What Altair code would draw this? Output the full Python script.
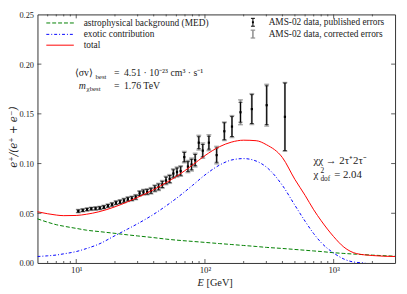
import altair as alt
import pandas as pd

SERIF = "Liberation Serif"
TXT = "#222222"

# ---------------- data ----------------
E_data = [10.38, 11.24, 12.14, 13.09, 14.14, 15.24, 16.39, 17.64, 18.98, 20.38,
          21.89, 23.49, 25.19, 27.04, 28.98, 31.08, 33.28, 35.58, 38.08, 40.78,
          43.63, 46.63, 49.83, 53.23, 56.83, 60.67, 64.77, 69.12, 73.76, 78.73,
          83.98, 89.57, 96.18, 107.3, 123.3, 141.5, 162.2, 188.9, 231.4, 301.7, 418.3]
frac = [0.0522, 0.0530, 0.0538, 0.0545, 0.0548, 0.0553, 0.0562, 0.0575, 0.0588, 0.0605,
        0.0615, 0.0628, 0.0642, 0.0648, 0.0662, 0.0700, 0.0712, 0.0716, 0.0726, 0.0750,
        0.0765, 0.0790, 0.0830, 0.0845, 0.0900, 0.0915, 0.0925, 0.1065, 0.0970, 0.0990,
        0.1035, 0.1210, 0.1130, 0.1210, 0.1085, 0.1325, 0.1372, 0.1516, 0.1548, 0.1587, 0.1470]
err_pub = [0.0012, 0.0012, 0.0012, 0.0012, 0.0013, 0.0013, 0.0014, 0.0014, 0.0015, 0.0016,
           0.0016, 0.0017, 0.0018, 0.0019, 0.0020, 0.0021, 0.0022, 0.0024, 0.0025, 0.0027,
           0.0029, 0.0031, 0.0033, 0.0035, 0.0037, 0.0040, 0.0043, 0.0046, 0.0049, 0.0052,
           0.0056, 0.0060, 0.0062, 0.0065, 0.0072, 0.0085, 0.0100, 0.0100, 0.0145, 0.0195, 0.0340]
err_cor = [0.0016, 0.0016, 0.0016, 0.0016, 0.0017, 0.0017, 0.0018, 0.0018, 0.0019, 0.0020,
           0.0021, 0.0022, 0.0023, 0.0024, 0.0025, 0.0026, 0.0028, 0.0030, 0.0032, 0.0034,
           0.0036, 0.0039, 0.0042, 0.0044, 0.0047, 0.0050, 0.0053, 0.0057, 0.0061, 0.0065,
           0.0069, 0.0074, 0.0077, 0.0080, 0.0088, 0.0093, 0.0110, 0.0125, 0.0155, 0.0210, 0.0345]

E_curve = [5, 6, 7, 8, 10, 12, 15, 20, 25, 30, 40, 50, 60, 80, 100, 130, 160, 200, 250, 300,
           400, 500, 600, 700, 800, 1000, 1200, 1500, 2000, 3000]
bkg = [0.0444, 0.0410, 0.0385, 0.0370, 0.0348, 0.0330, 0.0316, 0.0298, 0.0283, 0.0272,
       0.0255, 0.0240, 0.0230, 0.0217, 0.0207, 0.0195, 0.0186, 0.0176, 0.0166, 0.0157,
       0.0146, 0.0136, 0.0128, 0.0121, 0.0115, 0.0103, 0.0096, 0.0088, 0.0079, 0.0068]
total = [0.0515, 0.0495, 0.0482, 0.0476, 0.0478, 0.0490, 0.0515, 0.0565, 0.0615, 0.0660,
         0.0738, 0.0808, 0.0870, 0.0985, 0.1080, 0.1170, 0.1215, 0.1235, 0.1230, 0.1190,
         0.1060, 0.0840, 0.0680, 0.0535, 0.0425, 0.0265, 0.0160, 0.0095, 0.0075, 0.0065]
E_exo = [5, 6, 7, 8, 10, 12, 15, 20, 25, 30, 40, 50, 60, 80, 100, 130, 160, 200, 250, 300,
         400, 500, 600, 700, 800, 1000, 1200, 1400, 1760]
exo = [0.0065, 0.0072, 0.0080, 0.0092, 0.0115, 0.0145, 0.0190, 0.0275, 0.0340, 0.0395,
       0.0490, 0.0575, 0.0650, 0.0780, 0.0885, 0.0985, 0.1035, 0.1050, 0.1025, 0.0965,
       0.0780, 0.0580, 0.0420, 0.0295, 0.0205, 0.0100, 0.0040, 0.0012, 0.0]

x_major = [10, 100, 1000]
x_minor = [6, 7, 8, 9, 20, 30, 40, 50, 60, 70, 80, 90,
           200, 300, 400, 500, 600, 700, 800, 900, 2000]
y_major = [0.05, 0.10, 0.15, 0.20]
y_labels = [0.0, 0.05, 0.10, 0.15, 0.20, 0.25]

# layout: plot area on the page
PAD_L, PAD_T = 30, 4
LEFT, TOP = 8 + PAD_L, 8 + PAD_T       # page position of the plot area
W, H = 364, 253


def px(xp):
    return xp - LEFT


def py(yp):
    return yp - TOP


pts = pd.DataFrame({"E": E_data, "f": frac})
pts["lo"] = [f - e for f, e in zip(frac, err_pub)]
pts["hi"] = [f + e for f, e in zip(frac, err_pub)]
pts["clo"] = [f - e for f, e in zip(frac, err_cor)]
pts["chi"] = [f + e for f, e in zip(frac, err_cor)]

curves = pd.DataFrame({"E": E_curve, "bkg": bkg, "total": total})
exod = pd.DataFrame({"E": E_exo, "exo": exo})

xs = alt.Scale(type="log", domain=[5, 3000], nice=False)
ys = alt.Scale(domain=[0, 0.25], nice=False, zero=False)

xaxis = alt.Axis(values=x_major, title=None, ticks=False, domain=False, grid=False,
                 labelExpr="datum.value == 10 ? '10¹' : datum.value == 100 ? '10²' : '10³'",
                 labelFont=SERIF, labelFontSize=9, labelPadding=3, labelColor=TXT,
                 labelOverlap=False)
yaxis = alt.Axis(values=y_labels, format=".2f", title=None, ticks=False, domain=False, grid=False,
                 labelFont=SERIF, labelFontSize=8.5, labelPadding=4, labelColor=TXT,
                 labelOverlap=False)

X = lambda f: alt.X(f, type="quantitative", scale=xs, axis=xaxis)
Y = lambda f: alt.Y(f, type="quantitative", scale=ys, axis=yaxis)

total_line = alt.Chart(curves).mark_line(color="#ff0000", strokeWidth=1, interpolate="monotone").encode(
    x=X("E"), y=Y("total"))
bkg_line = alt.Chart(curves).mark_line(color="#008000", strokeWidth=1, strokeDash=[4, 2],
                                       interpolate="monotone").encode(x=X("E"), y=Y("bkg"))
exo_line = alt.Chart(exod).mark_line(color="#0000ff", strokeWidth=1, strokeDash=[3, 2, 1, 2],
                                     interpolate="monotone", clip=True).encode(x=X("E"), y=Y("exo"))

cor_bar = alt.Chart(pts).mark_rule(color="#8c8c8c", strokeWidth=2).encode(x=X("E"), y=Y("clo"), y2="chi")
cor_cap_hi = alt.Chart(pts).mark_tick(color="#8c8c8c", orient="horizontal", size=5, thickness=1.5).encode(x=X("E"), y=Y("chi"))
cor_cap_lo = alt.Chart(pts).mark_tick(color="#8c8c8c", orient="horizontal", size=5, thickness=1.5).encode(x=X("E"), y=Y("clo"))
pub_bar = alt.Chart(pts).mark_rule(color="#000000", strokeWidth=1).encode(x=X("E"), y=Y("lo"), y2="hi")
pub_cap_hi = alt.Chart(pts).mark_tick(color="#000000", orient="horizontal", size=4, thickness=1).encode(x=X("E"), y=Y("hi"))
pub_cap_lo = alt.Chart(pts).mark_tick(color="#000000", orient="horizontal", size=4, thickness=1).encode(x=X("E"), y=Y("lo"))
dots = alt.Chart(pts).mark_square(color="#000000", size=5, opacity=1).encode(x=X("E"), y=Y("f"))


# inward ticks
def xticks(vals, length):
    d = pd.DataFrame({"v": vals})
    b = alt.Chart(d).mark_rule(color="#333333", strokeWidth=0.8).encode(x=X("v"), y=alt.value(H), y2=alt.value(H - length))
    t = alt.Chart(d).mark_rule(color="#333333", strokeWidth=0.8).encode(x=X("v"), y=alt.value(0), y2=alt.value(length))
    return [b, t]


def yticks(vals, length):
    d = pd.DataFrame({"v": vals})
    l = alt.Chart(d).mark_rule(color="#333333", strokeWidth=0.8).encode(y=Y("v"), x=alt.value(0), x2=alt.value(length))
    r = alt.Chart(d).mark_rule(color="#333333", strokeWidth=0.8).encode(y=Y("v"), x=alt.value(W), x2=alt.value(W - length))
    return [l, r]


ticks = xticks(x_major, 4) + xticks(x_minor, 2) + yticks(y_major, 4)


def txt(s, xp, yp, size=9.5, align="left", style="normal", angle=0, baseline="middle", color=TXT, font=SERIF):
    return alt.Chart(pd.DataFrame({"t": [s]})).mark_text(
        align=align, baseline=baseline, fontSize=size, font=font, fontStyle=style,
        color=color, angle=angle).encode(x=alt.value(px(xp)), y=alt.value(py(yp)), text="t:N")


def seg(x1, x2, yp, color, dash=None, width=1.0):
    kw = dict(color=color, strokeWidth=width)
    if dash:
        kw["strokeDash"] = dash
    return alt.Chart(pd.DataFrame({"a": [0]})).mark_rule(**kw).encode(
        x=alt.value(px(x1)), x2=alt.value(px(x2)), y=alt.value(py(yp)))


def vseg(xp, y1, y2, color, width=1.0):
    return alt.Chart(pd.DataFrame({"a": [0]})).mark_rule(color=color, strokeWidth=width).encode(
        x=alt.value(px(xp)), y=alt.value(py(y1)), y2=alt.value(py(y2)))


legend = [
    seg(47, 75, 20.7, "#008000", [4, 2]), txt("astrophysical background (MED)", 85, 20.7),
    seg(47, 75, 32.3, "#0000ff", [3, 2, 1, 2]), txt("exotic contribution", 85, 32.3),
    seg(47, 75, 43.3, "#ff0000"), txt("total", 85, 43.3),
    # published errors marker
    vseg(257.3, 16, 24, "#000000"), seg(255.3, 259.3, 16, "#000000"), seg(255.3, 259.3, 24, "#000000"),
    seg(256.3, 258.3, 20, "#000000", width=2),
    txt("AMS-02 data, published errors", 273.3, 20),
    # corrected errors marker
    vseg(257.3, 28, 36, "#8c8c8c", 1.5), seg(255, 259.6, 28, "#8c8c8c", width=1.2), seg(255, 259.6, 36, "#8c8c8c", width=1.2),
    txt("AMS-02 data, corrected errors", 273.3, 32),
]

annot = [
    txt("⟨σv⟩", 76, 72, size=10),
    txt("best", 97, 75.5, size=7),
    txt("=", 116, 72, size=10),
    txt("4.51 · 10⁻²³ cm³ · s⁻¹", 126, 72, size=10),
    txt("m", 80, 84.5, size=10, style="italic"),
    txt("χbest", 88, 88, size=7),
    txt("=", 116, 84.5, size=10),
    txt("1.76 TeV", 126, 84.5, size=10),
    txt("χχ → 2τ⁺2τ⁻", 319, 161, size=11),
    txt("χ", 319, 176, size=11),
    txt("2", 326, 171.5, size=7.5),
    txt("dof", 326, 180, size=7.5),
    txt("= 2.04", 340, 176, size=11),
    # axis titles
    txt("E", 201, 285, size=10.5, style="italic"),
    txt("[GeV]", 210, 285, size=10.5),
    txt("e⁺/(e⁺ + e⁻)", 14, 137, size=10.5, style="italic", align="center", angle=270, font="DejaVu Serif"),
]

layers = [bkg_line, exo_line, cor_bar, cor_cap_hi, cor_cap_lo, pub_bar, pub_cap_hi, pub_cap_lo, dots,
          total_line] + ticks + legend + annot

chart = alt.layer(*layers).properties(
    width=W, height=H,
    autosize=alt.AutoSizeParams(type="none"),
    padding={"left": PAD_L, "top": PAD_T, "right": 4, "bottom": 27},
    background="white",
).configure_view(stroke="#333333", strokeWidth=1)

chart.save("out.html", embed_options={"renderer": "svg", "actions": False})
